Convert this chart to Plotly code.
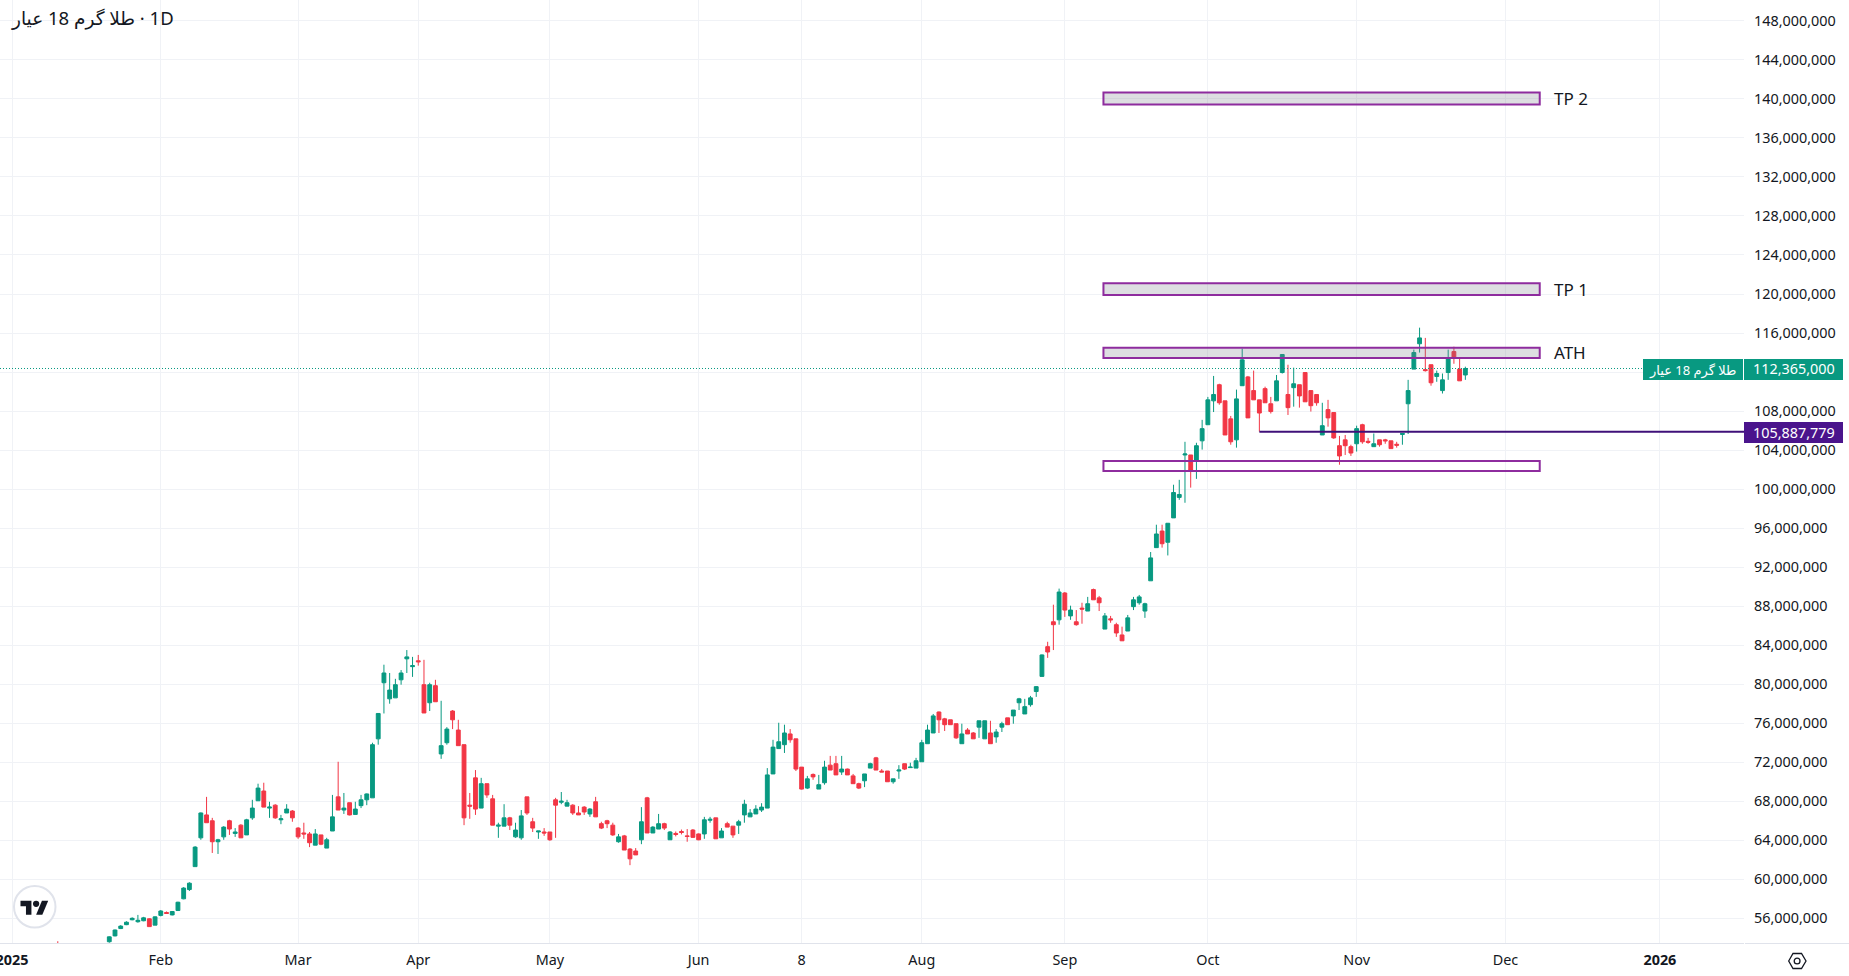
import numpy as np
import plotly.graph_objects as go

# prices in millions, one entry per daily bar (first one sits nearly off the chart)
open_m = [53.4,
    53.6,54.2,54.95,55.35,55.85,55.65,55.75,55.95,55.3,56.3,
    56.6,56.35,56.8,58.0,58.95,61.3,64.25,66.6,66.0,63.85,
    64.35,66.0,64.7,65.55,64.55,66.3,68.05,69.05,67.3,67.6,
    66.1,66.8,67.0,65.25,64.75,64.65,63.5,64.55,63.2,64.95,
    68.45,67.1,67.85,66.65,67.55,68.15,68.35,74.4,80.15,78.5,
    78.6,80.45,82.6,81.8,82.4,79.95,78.1,79.85,72.85,74.0,
    77.25,75.3,73.8,67.6,70.4,67.3,69.8,68.25,65.45,65.45,
    66.3,64.35,64.25,68.45,65.9,64.85,64.85,64.85,68.15,67.9,
    67.5,67.6,66.8,67.4,66.7,67.95,65.7,66.0,65.55,63.85,
    64.45,63.1,62.9,64.05,68.35,64.75,65.15,65.7,64.05,64.7,
    64.9,64.45,65.05,64.65,64.65,66.05,66.3,64.25,65.7,65.45,
    65.55,66.6,66.4,66.7,67.1,67.3,70.8,73.4,73.8,74.9,
    74.4,71.5,69.35,70.75,69.25,69.9,71.7,71.85,71.0,71.3,
    70.6,69.8,70.1,71.4,72.45,71.1,71.1,70.0,71.1,71.85,
    71.45,71.4,72.05,73.9,75.0,77.15,76.45,76.35,75.95,73.9,
    75.3,75.0,75.6,74.4,75.0,74.6,75.6,76.55,76.75,78.1,
    76.95,77.9,79.25,80.8,83.85,86.4,86.6,89.35,87.0,86.4,
    87.8,87.5,89.7,88.85,85.65,86.7,86.1,85.05,85.45,87.95,
    88.35,87.5,90.6,94.0,95.7,94.55,97.05,99.15,103.5,103.5,
    102.9,104.95,106.6,109.05,110.7,109.05,107.2,105.05,110.6,111.5,
    110.1,109.15,110.3,108.75,109.05,111.95,109.7,110.4,110.7,111.95,
    110.1,109.7,105.55,108.15,107.85,104.45,105.05,104.35,104.65,106.6,
    104.9,104.35,105.05,105.05,104.95,104.6,105.6,108.75,112.3,114.9,
    112.25,112.75,111.55,110.1,111.95,114.1,112.3,111.7]
high_m = [53.65,
    54.15,54.85,55.3,55.7,56.1,56.35,56.15,56.0,56.2,56.85,
    56.7,56.75,57.7,59.2,59.7,63.4,66.85,68.45,66.3,64.15,
    65.45,66.1,65.25,65.65,66.2,68.15,69.8,69.9,67.95,67.7,
    66.6,67.7,67.1,65.35,65.8,64.85,65.15,64.55,64.25,68.65,
    72.05,68.85,67.85,67.95,68.65,68.8,74.0,77.0,82.0,81.15,
    80.55,81.45,83.5,82.8,83.0,82.5,80.15,80.45,78.3,75.6,
    77.35,76.35,73.8,68.85,71.2,70.4,69.8,68.65,65.8,67.7,
    66.4,65.8,67.1,68.45,66.3,64.95,65.25,64.85,68.35,68.95,
    68.15,67.7,67.5,67.5,67.3,68.45,65.9,66.1,65.8,64.65,
    64.55,63.2,63.2,67.4,68.45,65.45,66.7,65.8,64.95,64.9,
    65.1,65.15,65.15,64.7,66.4,66.4,66.3,65.25,65.9,65.45,
    66.1,68.15,67.2,67.6,67.8,71.4,74.3,76.05,75.85,75.4,
    74.4,71.5,70.6,70.85,70.7,72.15,72.65,72.65,72.65,71.35,
    70.8,69.9,70.8,71.95,72.55,71.3,71.1,70.3,71.7,71.85,
    71.95,72.45,74.3,75.85,76.95,77.2,76.55,76.35,75.95,75.95,
    75.5,75.1,76.25,76.25,76.25,75.4,76.15,76.55,77.35,78.6,
    78.5,78.8,79.8,83.05,84.35,88.15,89.8,89.45,88.05,87.6,
    88.35,88.95,89.8,89.05,87.3,87.0,86.3,85.9,87.1,88.95,
    89.15,88.35,93.55,96.35,96.35,96.5,100.45,100.95,104.85,103.5,
    104.75,107.1,109.45,111.6,110.8,109.05,107.5,110.2,114.4,111.6,
    112.15,109.15,110.5,109.45,111.7,113.8,112.75,112.45,110.7,111.95,
    110.1,109.7,108.85,109.15,107.85,105.45,105.55,104.55,106.5,106.7,
    105.25,105.7,105.05,105.15,104.95,104.85,105.7,111.2,114.3,116.55,
    115.5,112.75,112.15,111.85,114.3,114.6,113.45,112.55]
low_m = [52.9,
    53.5,54.15,54.9,55.3,55.8,55.55,55.7,55.15,55.3,56.2,
    56.45,56.3,56.8,57.95,58.8,61.3,64.05,65.8,62.7,62.6,
    64.05,64.55,64.35,64.25,64.55,66.1,68.05,67.4,66.3,66.2,
    65.65,66.8,65.9,64.15,64.15,63.3,63.5,63.5,63.2,64.95,
    67.1,66.7,66.55,66.65,67.3,67.6,68.35,73.8,77.0,78.0,
    78.6,79.95,81.15,80.75,81.9,77.05,77.25,78.2,72.35,73.8,
    75.4,73.7,65.55,66.2,66.6,67.3,68.35,65.55,64.25,65.45,
    65.05,64.25,64.05,66.6,64.85,64.15,64.45,63.95,64.25,67.7,
    67.5,66.6,66.6,66.6,66.4,66.4,65.15,65.25,64.45,63.75,
    63.0,61.45,62.5,63.6,64.75,64.75,65.15,65.05,64.05,64.4,
    64.6,63.85,64.25,64.0,64.15,65.8,64.15,64.25,65.35,64.25,
    64.65,65.8,66.4,66.7,66.9,67.3,70.8,73.4,72.95,74.0,
    71.1,69.2,69.25,70.2,69.25,69.7,71.2,70.7,70.7,70.7,
    69.8,69.25,69.45,71.4,71.2,71.0,70.0,69.8,70.3,71.2,
    71.45,71.4,72.05,73.9,75.0,75.0,75.2,75.85,74.4,73.9,
    74.9,74.4,74.5,74.4,73.9,74.0,75.1,75.85,75.95,77.35,
    76.95,77.7,78.7,80.8,82.7,83.5,86.1,86.9,86.6,86.0,
    86.2,87.5,88.65,87.5,85.65,86.3,84.85,84.45,85.45,87.6,
    88.15,86.8,90.6,94.0,94.0,93.2,97.05,98.9,98.6,100.15,
    101.05,104.05,106.6,107.9,108.65,105.55,104.55,104.25,110.6,107.3,
    109.15,105.9,108.85,107.75,109.05,111.85,107.6,108.45,108.35,108.95,
    107.95,108.55,105.55,106.4,105.15,102.5,103.5,103.4,103.85,104.65,
    104.65,104.35,104.35,104.65,104.15,104.25,104.55,105.65,112.3,114.0,
    112.05,110.6,111.0,109.8,111.2,112.85,111.1,111.2]
close_m = [53.0,
    54.1,54.8,55.2,55.6,56.0,55.8,56.05,55.15,56.15,56.75,
    56.5,56.7,57.65,59.1,59.6,63.3,66.8,65.8,63.85,64.05,
    65.35,65.15,64.85,64.25,66.1,67.3,69.35,67.4,67.4,66.3,
    66.2,67.2,66.3,64.35,64.65,63.75,64.65,63.6,64.05,66.4,
    67.1,67.3,66.6,67.2,68.15,68.75,73.8,77.0,81.15,79.4,
    79.95,81.15,82.8,81.9,82.3,77.05,79.95,78.2,73.7,75.4,
    76.35,73.7,66.3,67.5,67.2,69.8,68.65,65.55,65.55,66.3,
    65.55,65.05,66.5,66.8,65.25,64.95,64.75,64.05,67.6,68.0,
    67.85,66.8,66.6,66.9,67.2,66.4,65.25,65.7,64.55,64.35,
    63.0,62.1,62.5,65.9,64.75,65.35,65.7,65.25,64.85,64.6,
    64.8,64.4,64.3,64.05,66.1,66.15,64.15,64.95,65.35,64.55,
    65.9,67.7,66.8,67.2,67.4,70.7,73.55,74.1,75.0,74.3,
    71.3,69.25,70.3,70.5,69.7,71.5,71.2,70.7,71.3,70.7,
    69.8,69.35,70.8,71.85,71.2,71.0,70.0,70.3,71.2,71.3,
    71.5,72.15,74.0,75.3,76.75,76.35,75.85,75.85,74.5,74.9,
    74.9,74.4,76.25,76.25,73.9,75.1,75.95,75.85,77.35,78.5,
    77.7,78.6,79.75,83.0,83.3,86.1,89.45,87.6,87.6,86.1,
    87.7,88.25,88.65,88.35,87.0,86.6,85.25,84.45,86.8,88.65,
    88.95,88.25,92.95,95.4,94.4,96.5,99.65,99.45,103.6,101.9,
    104.45,106.2,109.15,109.7,108.85,105.55,104.85,109.25,113.25,107.3,
    109.15,107.8,108.85,107.95,111.1,113.8,108.35,110.8,109.55,108.95,
    108.55,108.85,106.5,107.3,105.25,103.4,104.45,103.7,106.2,104.85,
    104.8,104.65,104.55,104.95,104.15,104.5,105.7,110.1,114.0,115.5,
    112.15,110.9,111.85,111.2,113.45,113.4,111.1,112.365]

bar_index = [-9] + list(range(len(open_m) - 1))

tick_bars = [-17, 9, 33, 54, 77, 103, 121, 142, 167, 192, 218, 244, 271]
tick_text = ["<b>2025</b>", "Feb", "Mar", "Apr", "May", "Jun", "8", "Aug", "Sep",
             "Oct", "Nov", "Dec", "<b>2026</b>"]

# zones: label, low, high (millions)
zone_names = ["TP 2", "TP 1", "ATH", ""]
zone_low = [139.44, 119.9, 113.45, 101.85]
zone_high = [140.67, 121.1, 114.5, 102.88]
zone_fill = ["rgba(120,123,134,0.25)", "rgba(120,123,134,0.25)", "rgba(120,123,134,0.25)",
             "rgba(0,0,0,0)"]
zone_start, zone_end = 173.75, 250

last_price = 112.365
line_price = 105.887779
line_start = 201

# LRM keeps the "1D" in one left-to-right run after the Persian name
title = "طلا گرم 18 عیار\u200e · 1D"
symbol = "طلا گرم 18 عیار"

GREEN = "#089981"
RED = "#F23645"
PURPLE = "#8E2C9E"
INK = "#131722"
GRID = "#F0F2F6"
FONT = "Noto Sans, DejaVu Sans, sans-serif"

W, H = 1849, 976
PLOT_W, PLOT_H = 1744, 943


def px(x):
    return x / PLOT_W


def py(y):
    return 1 - y / PLOT_H


fig = go.Figure(go.Candlestick(
    x=bar_index,
    open=np.array(open_m) * 1e6,
    high=np.array(high_m) * 1e6,
    low=np.array(low_m) * 1e6,
    close=np.array(close_m) * 1e6,
    increasing=dict(line=dict(color=GREEN, width=1), fillcolor=GREEN),
    decreasing=dict(line=dict(color=RED, width=1), fillcolor=RED),
    whiskerwidth=0,
    showlegend=False,
))

shapes = []
annotations = []

for name, lo, hi, fill in zip(zone_names, zone_low, zone_high, zone_fill):
    shapes.append(dict(type="rect", xref="x", yref="y", x0=zone_start, x1=zone_end,
                       y0=lo * 1e6, y1=hi * 1e6, fillcolor=fill,
                       line=dict(color=PURPLE, width=2), layer="above"))
    if name:
        annotations.append(dict(x=252.1, y=(lo + hi) / 2 * 1e6, xref="x", yref="y", text=name,
                                showarrow=False, xanchor="left", yanchor="middle",
                                font=dict(size=17, color=INK, family=FONT)))

# last price: dotted line and tag
shapes.append(dict(type="line", xref="paper", yref="y", x0=0, x1=px(1643),
                   y0=last_price * 1e6, y1=last_price * 1e6,
                   line=dict(color=GREEN, width=1, dash="1px,2px"), layer="above"))
shapes.append(dict(type="rect", xref="paper", yref="paper", x0=px(1643), x1=px(1843),
                   y0=py(380), y1=py(359), fillcolor=GREEN, line=dict(width=0), layer="above"))
shapes.append(dict(type="line", xref="paper", yref="paper", x0=px(1743.5), x1=px(1743.5),
                   y0=py(380), y1=py(359), line=dict(color="white", width=1), layer="above"))
annotations.append(dict(x=px(1647), y=py(369.5), xref="paper", yref="paper", text=symbol,
                        showarrow=False, xanchor="left", yanchor="middle",
                        font=dict(size=13, color="white", family=FONT)))
annotations.append(dict(x=px(1837), y=py(369), xref="paper", yref="paper", text="112,365,000",
                        showarrow=False, xanchor="right", yanchor="middle",
                        font=dict(size=14.4, color="white", family=FONT)))

# horizontal ray and its tag
shapes.append(dict(type="line", xref="x", yref="y", x0=line_start, x1=285.7,
                   y0=line_price * 1e6, y1=line_price * 1e6,
                   line=dict(color="#3F1079", width=2), layer="above"))
shapes.append(dict(type="rect", xref="paper", yref="paper", x0=px(1744), x1=px(1843),
                   y0=py(443), y1=py(422), fillcolor="#4A148C", line=dict(width=0), layer="above"))
annotations.append(dict(x=px(1837), y=py(432), xref="paper", yref="paper", text="105,887,779",
                        showarrow=False, xanchor="right", yanchor="middle",
                        font=dict(size=14.4, color="white", family=FONT)))

# title
annotations.append(dict(x=px(9), y=py(18), xref="paper", yref="paper", text=title,
                        showarrow=False, xanchor="left", yanchor="middle",
                        font=dict(size=18.5, color=INK, family=FONT)))

# bottom border under the price scale
shapes.append(dict(type="line", xref="paper", yref="paper", x0=px(1745), x1=px(W),
                   y0=py(943.5), y1=py(943.5), line=dict(color="#E0E3EB", width=1)))

# logo badge
shapes.append(dict(type="circle", xref="paper", yref="paper", x0=px(14), x1=px(55.5),
                   y0=py(927.5), y1=py(886), fillcolor="white",
                   line=dict(color="#E0E3EB", width=2), layer="above"))


def logo_path(points):
    # logo outline in its own 36-wide box, placed over the badge
    out = []
    for i, (a, b) in enumerate(points):
        out.append(("M" if i == 0 else "L") + f"{px(20.5 + a * 0.78):.5f},{py(897.6 + b * 0.78):.5f}")
    return " ".join(out) + " Z"


shapes.append(dict(type="path", xref="paper", yref="paper", fillcolor="#131722", line=dict(width=0),
                   layer="above",
                   path=logo_path([(0, 4), (14, 4), (14, 22), (7, 22), (7, 11), (0, 11)])))
shapes.append(dict(type="path", xref="paper", yref="paper", fillcolor="#131722", line=dict(width=0),
                   layer="above",
                   path=logo_path([(27.5, 4), (35.5, 4), (28, 22), (20, 22)])))
shapes.append(dict(type="circle", xref="paper", yref="paper", fillcolor="#131722", line=dict(width=0),
                   layer="above", x0=px(20.5 + 16 * 0.78), x1=px(20.5 + 24 * 0.78),
                   y0=py(897.6 + 12 * 0.78), y1=py(897.6 + 4 * 0.78)))

# settings hexagon
hex_pts = [(1788.7, 961), (1793, 953.5), (1801.5, 953.5), (1806, 961), (1801.5, 968.5), (1793, 968.5)]
shapes.append(dict(type="path", xref="paper", yref="paper", line=dict(color=INK, width=1.3),
                   path="M" + " L".join(f"{px(a):.5f},{py(b):.5f}" for a, b in hex_pts) + " Z"))
shapes.append(dict(type="circle", xref="paper", yref="paper", x0=px(1794.2), x1=px(1800),
                   y0=py(963.9), y1=py(958.1), line=dict(color=INK, width=1.3)))

fig.update_layout(
    width=W,
    height=H,
    margin=dict(l=0, r=W - PLOT_W, t=0, b=H - PLOT_H, pad=0, autoexpand=False),
    paper_bgcolor="white",
    plot_bgcolor="white",
    font=dict(family=FONT, size=14, color=INK),
    boxgap=0.33,
    boxgroupgap=0,
    shapes=shapes,
    annotations=annotations,
    xaxis=dict(
        range=[-19.1, 285.7],
        rangeslider=dict(visible=False),
        tickmode="array",
        tickvals=tick_bars,
        ticktext=tick_text,
        ticks="",
        ticklabeloverflow="allow",
        ticklabelstandoff=4,
        showgrid=True,
        gridcolor=GRID,
        gridwidth=1,
        showline=True,
        linecolor="#E0E3EB",
        linewidth=1,
        zeroline=False,
        tickfont=dict(size=14.4, color=INK, family=FONT),
    ),
    yaxis=dict(
        range=[53.47e6, 150.14e6],
        side="right",
        tick0=0,
        dtick=4e6,
        tickformat=",d",
        ticks="",
        ticklabelstandoff=9,
        showgrid=True,
        gridcolor=GRID,
        gridwidth=1,
        zeroline=False,
        showline=False,
        tickfont=dict(size=14.4, color=INK, family=FONT),
    ),
)

# the page body has a default margin, drop it so the chart fills the window
fig.write_html("out.html", config={"displayModeBar": False},
               post_script="document.body.style.margin='0';")
